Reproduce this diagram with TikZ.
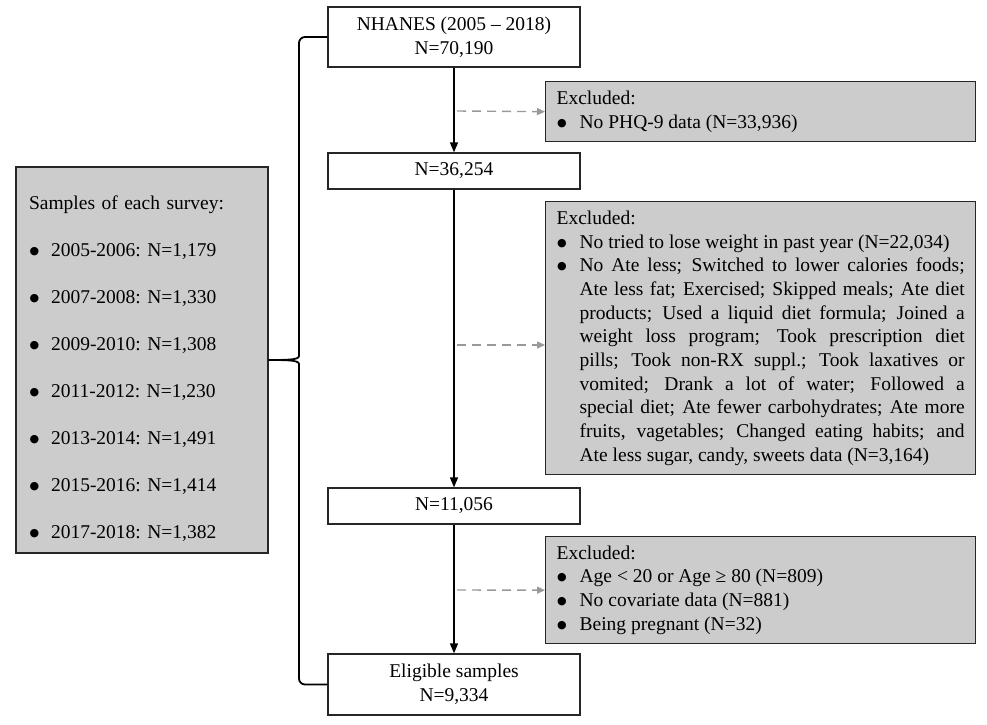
\documentclass[tikz,border=0pt]{standalone}
\usepackage{fontspec}
\setmainfont{Liberation Serif}
\newfontfamily\dotfont{DejaVu Sans}
\usetikzlibrary{arrows.meta}
\hyphenpenalty=10000
\exhyphenpenalty=10000
\newcommand{\bigdot}{\raisebox{2pt}{\dotfont\fontsize{11}{12}\selectfont ●}}
\newcommand{\exitem}[1]{\par\noindent\makebox[23pt][l]{\hspace{0.5pt}\bigdot}\parbox[t]{385pt}{\leftskip=0pt\rightskip=0pt\spaceskip=0pt\xspaceskip=0pt\parfillskip=0pt plus 1fil\relax #1}}
\newcommand{\survey}[2]{\par\noindent\makebox[22pt][l]{\hspace{0.5pt}\bigdot}#1:~N=#2}
\begin{document}
\begin{tikzpicture}[x=1pt,y=-1pt,
    every node/.style={font=\fontsize{19.5}{23.7}\selectfont},
    mainbox/.style={draw=black!85,line width=1.3pt,fill=white,minimum width=252pt,align=center,inner sep=3pt},
    exbox/.style={draw=black!85,line width=1.3pt,fill=gray!40,anchor=north west,text width=408pt,align=justify,inner xsep=11pt,inner ysep=5pt},
    samplebox/.style={draw=black!85,line width=1.3pt,fill=gray!40,minimum width=252pt,minimum height=386pt,text width=226pt,inner xsep=13pt,font=\fontsize{19.5}{47}\selectfont},
    flow/.style={-{Triangle[length=10pt,width=8pt]},line width=1.4pt},
    exflow/.style={-{Triangle[length=8pt,width=7pt]},gray!80,dash pattern=on 9pt off 6pt,line width=1.4pt},
    groupline/.style={line width=1.8pt,rounded corners=6pt}]
  \useasboundingbox (0,0) rectangle (987,724);
  \draw
    (454,37) node[mainbox,minimum height=60pt] (nhanes) {NHANES (2005 -- 2018)\\N=70,190}
    (454,171) node[mainbox,minimum height=36pt] (n1) {N=36,254}
    (454,506) node[mainbox,minimum height=36pt] (n2) {N=11,056}
    (454,684.5) node[mainbox,minimum height=61pt] (final) {Eligible samples\\N=9,334};
  \draw
    (545,81) node[exbox,minimum height=60pt] (ex1) {Excluded:\exitem{No PHQ-9 data (N=33,936)}}
    (545,201) node[exbox,minimum height=273pt] (ex2) {Excluded:\exitem{No tried to lose weight in past year (N=22,034)}\exitem{No Ate less; Switched to lower calories foods;\linebreak Ate less fat; Exercised; Skipped meals; Ate diet\linebreak products; Used a liquid diet formula; Joined a\linebreak weight loss program; Took prescription diet\linebreak pills; Took non-RX suppl.; Took laxatives or\linebreak vomited; Drank a lot of water; Followed a\linebreak special diet; Ate fewer carbohydrates; Ate more\linebreak fruits, vagetables; Changed eating habits; and\linebreak Ate less sugar, candy, sweets data (N=3,164)}}
    (545,536) node[exbox,minimum height=107pt] (ex3) {Excluded:\exitem{Age < 20 or Age ≥ 80 (N=809)}\exitem{No covariate data (N=881)}\exitem{Being pregnant (N=32)}};
  \node[samplebox] (samples) at (142,360) {\rule{0pt}{31pt}Samples of each survey:\survey{2005-2006}{1,179}\survey{2007-2008}{1,330}\survey{2009-2010}{1,308}\survey{2011-2012}{1,230}\survey{2013-2014}{1,491}\survey{2015-2016}{1,414}\survey{2017-2018}{1,382}};
  \coordinate (d1) at (457,111);
  \coordinate (d2) at (457,345);
  \coordinate (d3) at (457,590);
  \begin{scope}[flow]
    \draw (nhanes) to (n1);
    \draw (n1) to (n2);
    \draw (n2) to (final);
  \end{scope}
  \begin{scope}[exflow]
    \draw (d1) to (ex1.west);
    \draw (d2) to (d2 -| ex2.west);
    \draw (d3) to (ex3.west);
  \end{scope}
  \draw[groupline] (samples.east) .. controls (286,360) and (299,360) .. (299,350) |- (nhanes.west);
  \draw[groupline] (samples.east) .. controls (286,360) and (299,360) .. (299,370) |- (final.west);
\end{tikzpicture}
\end{document}
